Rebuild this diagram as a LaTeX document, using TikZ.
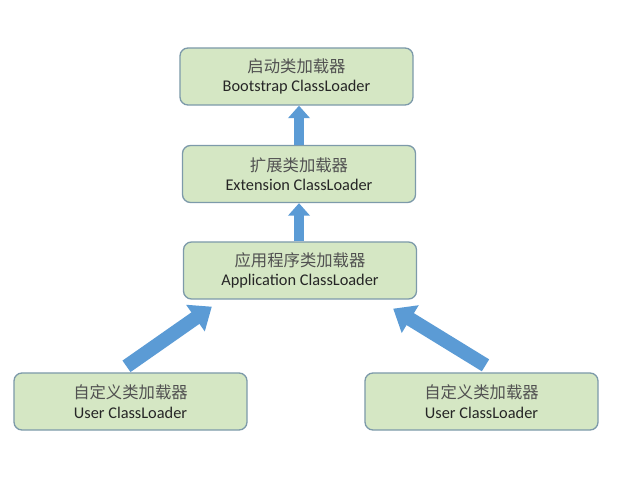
\documentclass[tikz,border=0pt]{standalone}
\usepackage{fontspec}
\setmainfont{Carlito}
\newfontfamily\cjk{Noto Sans CJK SC}
\usepackage{xcolor}
\usetikzlibrary{arrows.meta}
\definecolor{boxfill}{HTML}{D5E7C4}
\definecolor{boxline}{HTML}{7D9AAA}
\definecolor{arrowblue}{HTML}{5B9BD5}
\definecolor{txt}{HTML}{262626}

\begin{document}
\begin{tikzpicture}[x=0.04cm,y=-0.04cm,
  loader/.style={rectangle,rounded corners=0.32cm,draw=boxline,line width=1.5pt,
    fill=boxfill,minimum width=9.32cm,minimum height=2.28cm,align=center,
    text=txt,inner sep=0pt,font=\fontsize{18.6}{22}\selectfont},
  upright/.style={arrowblue,line width=0.42cm,
    -{Triangle[length=0.5cm,width=0.85cm]}},
  slanted/.style={arrowblue,line width=0.56cm,
    -{Triangle[length=0.8cm,width=1.25cm]}}]
\useasboundingbox (0,0) rectangle (618,488);
\node[loader] (boot) at (296.5,76.5) {{\cjk\color{txt!80}启动类加载器}\\Bootstrap ClassLoader};
\node[loader] (ext) at (299,174) {{\cjk\color{txt!80}扩展类加载器}\\Extension ClassLoader};
\node[loader] (app) at (300,270.5) {{\cjk\color{txt!80}应用程序类加载器}\\Application ClassLoader};
\node[loader] (userl) at (130.5,401.5) {{\cjk\color{txt!80}自定义类加载器}\\User ClassLoader};
\node[loader] (userr) at (481.5,401.5) {{\cjk\color{txt!80}自定义类加载器}\\User ClassLoader};
% parent delegation arrows
\draw[upright] (ext.north) -- (ext.north |- boot.south);
\draw[upright] (ext.north |- app.north) -- (ext.south);
\draw[slanted] ([shift={(-4,-6)}]userl.north) -- ([shift={(29,7)}]app.south west);
\draw[slanted] ([shift={(4,-7)}]userr.north) -- ([shift={(-24,9)}]app.south east);
\end{tikzpicture}
\end{document}
